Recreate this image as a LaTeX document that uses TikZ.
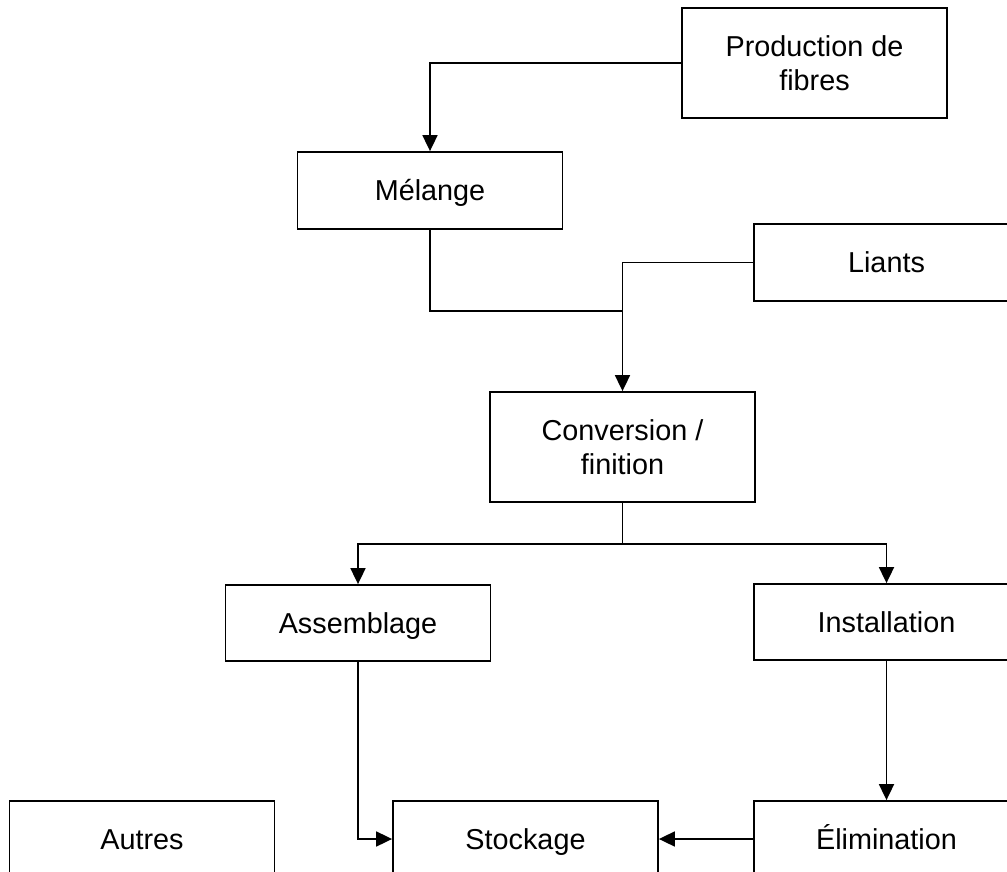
\documentclass[tikz,border=0pt]{standalone}
\usepackage{fontspec}
\setmainfont{Liberation Sans}
\usetikzlibrary{arrows.meta}
\begin{document}
\begin{tikzpicture}[x=1pt,y=-1pt,
  box/.style={draw=black, line width=1.8pt, minimum width=265pt, minimum height=76pt,
    align=center, inner sep=0pt, font=\fontsize{28.8}{34}\selectfont},
  onebox/.style={box, text height=20.6pt, text depth=0pt},
  tallbox/.style={box, minimum height=110pt},
  conn/.style={draw=black, line width=1.8pt},
  arr/.style={conn, -{Triangle[length=16pt,width=15pt]}}]
\useasboundingbox (0,0) rectangle (1007,872);
\clip (0,0) rectangle (1007,872);
\fill[white] (0,0) rectangle (1007,872);
\node[tallbox] (prod) at (814.5,63) {Production de\\fibres};
\node[onebox, minimum height=77pt] (mel) at (430,190.5) {Mélange};
\node[onebox, minimum height=77pt] (liants) at (886.5,262.5) {Liants};
\node[tallbox] (conv) at (622.5,447) {Conversion /\\finition};
\node[onebox] (assem) at (358,623) {Assemblage};
\node[onebox] (inst) at (886.5,622) {Installation};
\node[onebox] (autres) at (142,839) {Autres};
\node[onebox] (stock) at (525.5,839) {Stockage};
\node[onebox] (elim) at (886.5,839) {Élimination};
\coordinate (merge) at (622.5,310.7);
\coordinate (branch) at (622.5,543.7);
\draw[arr] (prod.west) -| (mel.north);
\draw[conn] (mel.south) |- (merge);
\draw[conn] (liants.west) -| (merge);
\draw[arr] (merge) -- (conv.north);
\draw[conn] (conv.south) -- (branch);
\draw[arr] (branch) -| (assem.north);
\draw[arr] (branch) -| (inst.north);
\draw[arr] (assem.south) |- (stock.west);
\draw[arr] (inst.south) -- (elim.north);
\draw[arr] (elim.west) -- (stock.east);
\end{tikzpicture}
\end{document}
